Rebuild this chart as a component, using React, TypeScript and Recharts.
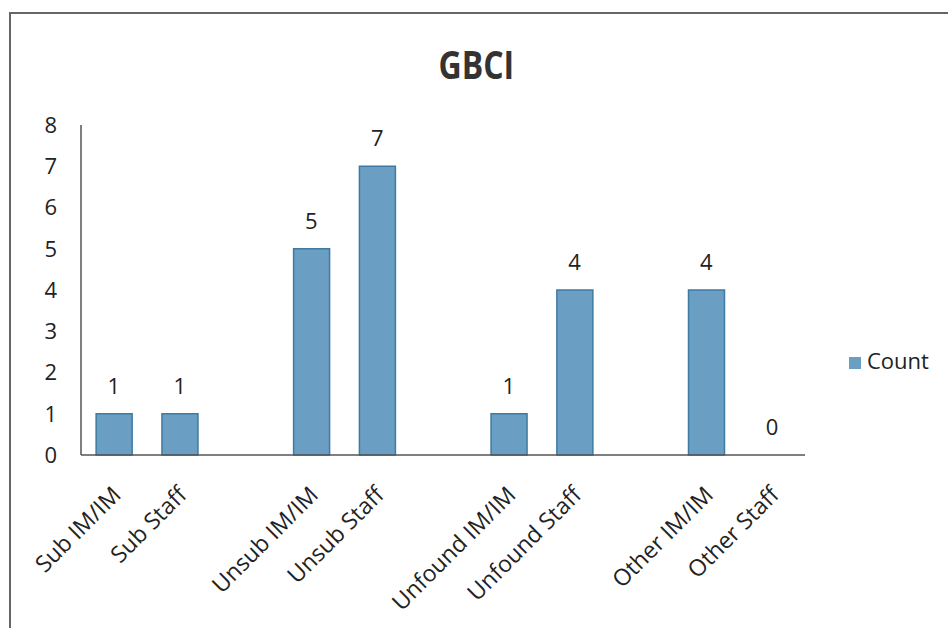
import React from 'react'
import { ComposedChart, Bar, Line, XAxis, YAxis, Legend } from 'recharts'

// blank entries keep the gaps between the groups
const categories = ['Sub IM/IM', 'Sub Staff', '', 'Unsub IM/IM', 'Unsub Staff', ' ', 'Unfound IM/IM', 'Unfound Staff', '  ', 'Other IM/IM', 'Other Staff']
const counts: (number | null)[] = [1, 1, null, 5, 7, null, 1, 4, null, 4, 0]
const yTicks = [0, 1, 2, 3, 4, 5, 6, 7, 8]

const data = categories.map((name, i) => ({ name, count: counts[i] }))

const FONT = '"Open Sans", sans-serif'
const TEXT = '#222'

function XTick(props: any) {
  const { x, y, payload } = props
  return (
    <g transform={`translate(${x + 2},${y + 27})`}>
      <text
        transform="rotate(-45)"
        textAnchor="end"
        dominantBaseline="central"
        fontFamily={FONT}
        fontSize={23}
        fill={TEXT}
      >
        {payload.value}
      </text>
    </g>
  )
}

// labels hang off an invisible line so the 0 (no bar drawn) still gets one
function ValueLabel(props: any) {
  const { x, y, value } = props
  if (value === null || value === undefined || y == null) return null
  return (
    <text x={x} y={y - 20} textAnchor="middle" fontFamily={FONT} fontSize={22} fill={TEXT}>
      {value}
    </text>
  )
}

export default function App() {
  return (
    <div style={{ position: 'absolute', left: 0, top: 0, width: 948, height: 628, background: '#fff' }}>
      <div style={{ position: 'absolute', left: 9, top: 12, right: 0, bottom: 0, borderTop: '2px solid #666', borderLeft: '2px solid #666' }} />
      <div
        style={{
          position: 'absolute', left: 0, width: 948, top: 36, textAlign: 'center',
          fontFamily: FONT, fontWeight: 700, fontSize: 40, color: '#333',
        }}
      >
        <span style={{ display: 'inline-block', transform: 'scaleX(0.8)', marginLeft: 4 }}>GBCI</span>
      </div>
      <div style={{ position: 'absolute', left: 0, top: 0 }}>
        <ComposedChart
          width={948}
          height={628}
          data={data}
          margin={{ top: 125, right: 43, bottom: 0, left: 31 }}
          barCategoryGap="23%"
        >
          <XAxis
            dataKey="name"
            interval={0}
            tickLine={false}
            axisLine={{ stroke: '#555', strokeWidth: 1.5 }}
            tick={<XTick />}
            height={173}
          />
          <YAxis
            domain={[0, 8]}
            ticks={yTicks}
            interval={0}
            width={50}
            tickLine={false}
            tickSize={6}
            tickMargin={18}
            axisLine={{ stroke: '#555', strokeWidth: 1.5 }}
            tick={{ fontFamily: FONT, fontSize: 22, fill: TEXT }}
          />
          <Legend
            layout="vertical"
            align="right"
            verticalAlign="middle"
            iconType="square"
            iconSize={12}
            wrapperStyle={{ left: 849, top: 345, width: 100, fontFamily: FONT, fontSize: 22 }}
            formatter={(v: string) => <span style={{ color: TEXT, marginLeft: 2 }}>{v}</span>}
          />
          <Bar dataKey="count" name="Count" fill="#6a9ec2" stroke="#3f7aa2" strokeWidth={1.5} isAnimationActive={false} />
          <Line
            dataKey="count"
            stroke="none"
            dot={false}
            activeDot={false}
            legendType="none"
            label={<ValueLabel />}
            isAnimationActive={false}
          />
        </ComposedChart>
      </div>
    </div>
  )
}
